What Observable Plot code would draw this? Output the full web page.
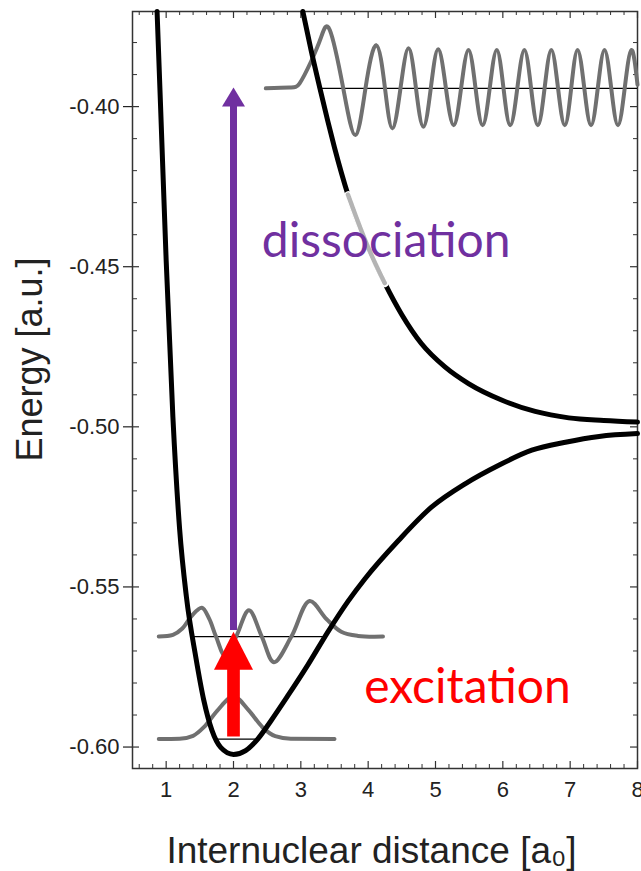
<!DOCTYPE html>
<html>
<head>
<meta charset="utf-8">
<script src="https://cdn.jsdelivr.net/npm/d3@7"></script>
<script src="https://cdn.jsdelivr.net/npm/@observablehq/plot@0.6"></script>
<style>
  html, body { margin: 0; padding: 0; background: #fff; }
</style>
</head>
<body>
<div id="chart"></div>
<script>
// ---------- data ----------
const xMajor = [1, 2, 3, 4, 5, 6, 7, 8];
const xTickLabels = ["1", "2", "3", "4", "5", "6", "7", "8"];
const xMinor = [0.6, 0.8, 1.2, 1.4, 1.6, 1.8, 2.2, 2.4, 2.6, 2.8, 3.2, 3.4, 3.6, 3.8,
  4.2, 4.4, 4.6, 4.8, 5.2, 5.4, 5.6, 5.8, 6.2, 6.4, 6.6, 6.8, 7.2, 7.4, 7.6, 7.8];
const yMajor = [-0.60, -0.55, -0.50, -0.45, -0.40];
const yTickLabels = ["-0.60", "-0.55", "-0.50", "-0.45", "-0.40"];
const yMinor = [-0.59, -0.58, -0.57, -0.56, -0.54, -0.53, -0.52, -0.51, -0.49, -0.48,
  -0.47, -0.46, -0.44, -0.43, -0.42, -0.41, -0.39, -0.38];

const xLabel = "Internuclear distance [a\u2080]";
const yLabel = "Energy [a.u.]";

// ground-state potential (1sσg)
const groundR = [0.865, 0.917, 1.0, 1.1, 1.2, 1.3, 1.44, 1.56, 1.68, 1.81, 2.0, 2.18, 2.36, 2.56,
  2.81, 3.10, 3.40, 3.70, 3.95, 4.45, 4.94, 5.44, 5.94, 6.43, 6.93, 7.43, 8.0];
const groundE = [-0.3703, -0.400, -0.448, -0.497, -0.532, -0.553, -0.5719, -0.5855, -0.5948, -0.6001,
  -0.6023, -0.6011, -0.5975, -0.5917, -0.5839, -0.5745, -0.5641, -0.5545, -0.5475, -0.5355,
  -0.5251, -0.5178, -0.5120, -0.5073, -0.5048, -0.5030, -0.5021];

// repulsive excited potential (2pσu)
const upperR = [3.03, 3.15, 3.28, 3.40, 3.50, 3.70, 4.00, 4.25, 4.50, 4.79, 5.14, 5.49, 5.99,
  6.48, 6.98, 7.50, 8.00];
const upperE = [-0.3703, -0.3822, -0.3940, -0.4045, -0.4128, -0.4275, -0.4440, -0.4553, -0.4650,
  -0.4740, -0.4813, -0.4865, -0.4917, -0.4952, -0.4972, -0.4980, -0.4985];
const hatchRange = [3.70, 4.25];

// vibrational levels (thin lines)
const levelE = [-0.5975, -0.5655, -0.3943];
const levelR1 = [1.73, 1.39, 3.28];
const levelR2 = [2.36, 3.36, 8.0];

// ground vibrational wavefunction
const wave0R = [0.89, 1.2, 1.40, 1.56, 1.76, 2.0, 2.23, 2.43, 2.62, 2.85, 3.5];
const wave0E = [-0.5975, -0.5974, -0.5965, -0.5938, -0.5886, -0.5842, -0.5886, -0.5938, -0.5966,
  -0.5974, -0.5975];

// excited vibrational wavefunction
const wave1R = [0.89, 1.10, 1.24, 1.38, 1.53, 1.64, 1.74, 1.88, 2.04, 2.23, 2.42, 2.60, 2.86,
  3.13, 3.38, 3.60, 3.85, 4.22];
const wave1E = [-0.5655, -0.5650, -0.5630, -0.5590, -0.5565, -0.5600, -0.5655, -0.5717, -0.5655,
  -0.5573, -0.5655, -0.5735, -0.5655, -0.5544, -0.5600, -0.5640, -0.5653, -0.5655];

// continuum (dissociative) wavefunction
const waveCR = [2.48, 2.83, 2.98, 3.15, 3.30, 3.43, 3.63, 3.81, 3.96, 4.12, 4.25, 4.36, 4.48,
  4.60, 4.71, 4.82, 4.93, 5.04, 5.155, 5.27, 5.38, 5.49, 5.595, 5.70, 5.805, 5.91, 6.01,
  6.11, 6.215, 6.32, 6.42, 6.52, 6.62, 6.72, 6.82, 6.92, 7.015, 7.11, 7.21, 7.31, 7.41,
  7.51, 7.61, 7.71, 7.81, 7.91, 8.0];
const waveCE = [-0.3943, -0.3940, -0.3928, -0.3860, -0.3784, -0.3761, -0.3943, -0.4089, -0.3943,
  -0.3808, -0.3943, -0.4068, -0.3943, -0.3818, -0.3943, -0.4063, -0.3943, -0.3821, -0.3943,
  -0.4058, -0.3943, -0.3823, -0.3943, -0.4058, -0.3943, -0.3823, -0.3943, -0.4058, -0.3943,
  -0.3823, -0.3943, -0.4058, -0.3943, -0.3823, -0.3943, -0.4058, -0.3943, -0.3823, -0.3943,
  -0.4058, -0.3943, -0.3823, -0.3943, -0.4058, -0.3943, -0.3823, -0.3932];

// arrows
const arrowNames = ["excitation", "dissociation"];
const arrowR = [2, 2];
const arrowBase = [-0.5969, -0.5636];
const arrowTip = [-0.5640, -0.3940];
const arrowColors = ["#ff0000", "#7030a0"];

// annotation texts
const noteText = ["dissociation", "excitation"];
const noteR = [2.42, 3.94];
const noteE = [-0.4469, -0.5862];
const noteColors = ["#7030a0", "#ff0000"];

// ---------- layout ----------
const W = 641, H = 871;
const mL = 132, mR = 4, mT = 11, mB = 103;
const plotW = W - mL - mR;
const plotH = H - mT - mB;

const pts = (xs, ys) => xs.map((x, i) => ({x, y: ys[i]}));
const ground = pts(groundR, groundE);
const upper = pts(upperR, upperE);
const hatch = upper.filter(d => d.x >= hatchRange[0] && d.x <= hatchRange[1]);
const wave0 = pts(wave0R, wave0E);
const wave1 = pts(wave1R, wave1E);
const waveC = pts(waveCR, waveCE);
const levels = levelE.map((y, i) => ({y, x1: levelR1[i], x2: levelR2[i]}));
const arrows = arrowNames.map((n, i) => ({name: n, x: arrowR[i], base: arrowBase[i], tip: arrowTip[i], color: arrowColors[i]}));

function headSymbol(w, h) {
  return {draw(ctx) { ctx.moveTo(0, 0); ctx.lineTo(w / 2, h); ctx.lineTo(-w / 2, h); ctx.closePath(); }};
}

const tickColor = "#333";
const waveGray = "#707070";

const chart = Plot.plot({
  width: W, height: H,
  marginLeft: mL, marginRight: mR, marginTop: mT, marginBottom: mB,
  x: {domain: [0.5, 8]},
  y: {domain: [-0.6067, -0.3703]},
  style: {fontFamily: "'Liberation Sans', Arial, sans-serif", fontSize: "22px", background: "#fff", color: "#222"},
  marks: [
    // axes (labels + outward major ticks on the left)
    Plot.axisY(yMajor, {tickSize: 9, tickPadding: 4, tickFormat: d => yTickLabels[yMajor.indexOf(d)], label: null, color: "#222", strokeWidth: 1.2}),
    Plot.axisX(xMajor, {tickSize: 0, tickPadding: 13, tickFormat: d => xTickLabels[xMajor.indexOf(d)], label: null, color: "#222"}),
    // inward ticks on all four sides
    Plot.tickX(xMajor, {x: d => d, insetTop: plotH - 7, stroke: tickColor, strokeWidth: 1.2}),
    Plot.tickX(xMinor, {x: d => d, insetTop: plotH - 4, stroke: tickColor, strokeWidth: 1}),
    Plot.tickX(xMajor, {x: d => d, insetBottom: plotH - 7, stroke: tickColor, strokeWidth: 1.2}),
    Plot.tickX(xMinor, {x: d => d, insetBottom: plotH - 4, stroke: tickColor, strokeWidth: 1}),
    Plot.tickY(yMajor, {y: d => d, insetRight: plotW - 7, stroke: tickColor, strokeWidth: 1.2}),
    Plot.tickY(yMinor, {y: d => d, insetRight: plotW - 5, stroke: tickColor, strokeWidth: 1}),
    Plot.tickY(yMajor, {y: d => d, insetLeft: plotW - 7, stroke: tickColor, strokeWidth: 1.2}),
    Plot.tickY(yMinor, {y: d => d, insetLeft: plotW - 4, stroke: tickColor, strokeWidth: 1}),
    Plot.frame({stroke: "#333", strokeWidth: 1.5}),

    // vibrational levels
    Plot.ruleY(levels, {y: "y", x1: "x1", x2: "x2", stroke: "#000", strokeWidth: 1.3}),
    // wavefunctions
    Plot.line(wave0, {x: "x", y: "y", curve: "monotone-x", stroke: waveGray, strokeWidth: 4, strokeLinecap: "round"}),
    Plot.line(wave1, {x: "x", y: "y", curve: "catmull-rom", stroke: waveGray, strokeWidth: 4, strokeLinecap: "round"}),
    Plot.line(waveC, {x: "x", y: "y", curve: "natural", stroke: waveGray, strokeWidth: 4, strokeLinecap: "round"}),
    // potential curves
    Plot.line(ground, {x: "x", y: "y", curve: "monotone-x", stroke: "#000", strokeWidth: 5, strokeLinecap: "round"}),
    Plot.line(upper, {x: "x", y: "y", curve: "monotone-x", stroke: "#000", strokeWidth: 5, strokeLinecap: "round"}),
    Plot.line(hatch, {x: "x", y: "y", curve: "monotone-x", stroke: "#fff", strokeWidth: 7}),
    Plot.line(hatch, {x: "x", y: "y", curve: "monotone-x", stroke: "#b4b4b4", strokeWidth: 4.5, strokeDasharray: "1.2 1"}),

    // arrows: shafts + filled heads
    Plot.ruleX(arrows.slice(0, 1), {x: "x", y1: "tip", y2: "base", stroke: "color", strokeWidth: 12.7, insetTop: 20}),
    Plot.dot(arrows.slice(0, 1), {x: "x", y: "tip", symbol: headSymbol(39, 38), fill: "color", stroke: "none"}),
    Plot.ruleX(arrows.slice(1, 2), {x: "x", y1: "tip", y2: "base", stroke: "color", strokeWidth: 7, insetTop: 12}),
    Plot.dot(arrows.slice(1, 2), {x: "x", y: "tip", symbol: headSymbol(23, 19), fill: "color", stroke: "none"}),

    // annotations
    Plot.text(noteText.slice(0, 1), {x: noteR.slice(0, 1), y: noteE.slice(0, 1), text: d => d, fill: noteColors[0], fontFamily: "Lato", fontSize: 48, textAnchor: "start", lineAnchor: "bottom"}),
    Plot.text(noteText.slice(1, 2), {x: noteR.slice(1, 2), y: noteE.slice(1, 2), text: d => d, fill: noteColors[1], fontFamily: "Lato", fontSize: 48, textAnchor: "start", lineAnchor: "bottom"}),

    // axis titles
    Plot.text([yLabel], {frameAnchor: "left", dx: 30 - mL, dy: 359 - (mT + plotH / 2), rotate: -90, text: d => d, fontSize: 36, fill: "#222", textAnchor: "middle", lineAnchor: "middle"}),
    Plot.text([xLabel], {frameAnchor: "bottom", dx: 371 - (mL + plotW / 2), dy: 94, text: d => d, fontSize: 37, fill: "#222", textAnchor: "middle", lineAnchor: "bottom"})
  ]
});
document.getElementById("chart").appendChild(chart);
</script>
</body>
</html>
